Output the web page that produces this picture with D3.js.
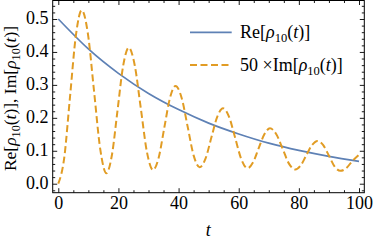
<!DOCTYPE html>
<html><head><meta charset="utf-8">
<script src="https://cdn.jsdelivr.net/npm/d3@7"></script>
<style>
html,body{margin:0;padding:0;background:#fff;}
svg{display:block;}
svg text{font-family:"Liberation Serif","Times New Roman","DejaVu Serif",serif !important;}
</style></head>
<body>
<script>
// ---- data ----
const reT = [0,10,20,30,40,50,60,70,80,90,100];
const reV = [0.500,0.409,0.335,0.274,0.225,0.184,0.151,0.123,0.101,0.083,0.068];
const imT = [0,1.95,3.9,5.85,7.8,9.85,11.9,13.95,16.0,17.85,19.7,21.55,23.4,25.43,27.45,29.48,31.5,33.38,35.25,37.13,39.0,41,43,45,47.0,48.95,50.9,52.85,54.8,56.83,58.85,60.88,62.9,64.78,66.65,68.53,70.4,72.5,74.6,76.7,78.8,80.65,82.5,84.35,86.2,88.1,90.0,91.9,93.8,95.75,97.7,100];
const imV = [0,0.077,0.264,0.450,0.527,0.455,0.280,0.105,0.032,0.088,0.223,0.357,0.413,0.359,0.228,0.096,0.042,0.079,0.170,0.260,0.297,0.261,0.174,0.086,0.050,0.076,0.140,0.203,0.229,0.202,0.138,0.074,0.047,0.065,0.108,0.150,0.168,0.150,0.106,0.061,0.043,0.056,0.087,0.117,0.130,0.117,0.085,0.052,0.039,0.047,0.068,0.088];
const xTicks = [0,20,40,60,80,100];
const xMinor = [5,10,15,25,30,35,45,50,55,65,70,75,85,90,95];
const yTicks = [0,0.1,0.2,0.3,0.4,0.5];
const yTickLabels = ["0.0","0.1","0.2","0.3","0.4","0.5"];
const yMinor = [-0.02,0.02,0.04,0.06,0.08,0.12,0.14,0.16,0.18,0.22,0.24,0.26,0.28,0.32,0.34,0.36,0.38,0.42,0.44,0.46,0.48,0.52,0.54];
const seriesNames = ["Re[ρ10(t)]","50 ×Im[ρ10(t)]"];

const W=374,H=242;
const L=52.7,R=364.3,T=0.5,B=192.7;
const x = d3.scaleLinear().domain([-1.86,101.76]).range([L,R]);
const y = d3.scaleLinear().domain([-0.0273,0.5562]).range([B,T]);
const FONT = '"Liberation Serif","Times New Roman","DejaVu Serif",serif';

const svg = d3.select("body").append("svg").attr("width",W).attr("height",H)
  .attr("font-family",FONT);
svg.append("defs").append("clipPath").attr("id","clip")
  .append("rect").attr("x",L).attr("y",T).attr("width",R-L).attr("height",B-T);

const blue="#5E81B5", orange="#E19C24";

// curves
const reData = reT.map((t,i)=>[t,reV[i]]);
const imData = imT.map((t,i)=>[t,imV[i]]);
const g = svg.append("g").attr("clip-path","url(#clip)");
g.append("path").datum(reData)
  .attr("d",d3.line().x(d=>x(d[0])).y(d=>y(d[1])).curve(d3.curveNatural))
  .attr("fill","none").attr("stroke",blue).attr("stroke-width",1.7);
g.append("path").datum(imData)
  .attr("d",d3.line().x(d=>x(d[0])).y(d=>y(d[1])).curve(d3.curveMonotoneX))
  .attr("fill","none").attr("stroke",orange).attr("stroke-width",2).attr("stroke-dasharray","7,3.5");

// axes
function axis(gen, tr, vals, size, labels){
  const a = gen.tickValues(vals).tickSize(size).tickSizeOuter(0);
  if(labels) a.tickFormat((d,i)=>labels[i]); else a.tickFormat("");
  const ag = svg.append("g").attr("transform",tr).call(a);
  ag.attr("font-family",FONT).attr("font-size",18);
  ag.select(".domain").remove();
  ag.selectAll("line").attr("stroke","#000").attr("stroke-width",0.9);
  return ag;
}
axis(d3.axisBottom(x).tickPadding(3.2), `translate(0,${B})`, xTicks, -4.5, xTicks.map(String));
axis(d3.axisBottom(x), `translate(0,${B})`, xMinor, -2.5, null);
axis(d3.axisTop(x), `translate(0,${T})`, xTicks, -4.5, null);
axis(d3.axisTop(x), `translate(0,${T})`, xMinor, -2.5, null);
const ly = axis(d3.axisLeft(y).tickPadding(4.2), `translate(${L},0)`, yTicks, -4.5, yTickLabels);
axis(d3.axisLeft(y), `translate(${L},0)`, yMinor, -2.5, null);
axis(d3.axisRight(y), `translate(${R},0)`, yTicks, -4.5, null);
axis(d3.axisRight(y), `translate(${R},0)`, yMinor, -2.5, null);
svg.selectAll(".tick text").attr("fill","#000");
ly.selectAll("text").attr("dy","0.27em");

// frame
svg.append("rect").attr("x",L).attr("y",T).attr("width",R-L).attr("height",B-T)
  .attr("fill","none").attr("stroke","#000").attr("stroke-width",1);

// axis titles
svg.append("text").attr("x",208.3).attr("y",236).attr("text-anchor","middle")
  .attr("font-size",18).attr("font-style","italic").text("t");

function rhoPart(sel, prefix, suffix, sub){
  sel.append("tspan").text(prefix);
  sel.append("tspan").attr("font-style","italic").text("ρ");
  sel.append("tspan").attr("font-size",sub).attr("dy",4).text("10");
  sel.append("tspan").attr("dy",-4).text("(");
  sel.append("tspan").attr("font-style","italic").text("t");
  sel.append("tspan").text(")"+suffix);
}
const yt = svg.append("text").attr("transform","translate(16,98.5) rotate(-90)")
  .attr("text-anchor","middle").attr("font-size",17.5);
rhoPart(yt,"Re[","], ",12.2);
rhoPart(yt,"Im[","]",12.2);

// legend
const legY=[32.3,65];
svg.append("line").attr("x1",190).attr("x2",231.7).attr("y1",legY[0]).attr("y2",legY[0])
  .attr("stroke",blue).attr("stroke-width",1.7);
svg.append("line").attr("x1",190).attr("x2",231.7).attr("y1",legY[1]).attr("y2",legY[1])
  .attr("stroke",orange).attr("stroke-width",2).attr("stroke-dasharray","7,3.5");
const t1 = svg.append("text").attr("x",240).attr("y",legY[0]+5.5).attr("font-size",18);
rhoPart(t1,"Re[","]",12.5);
const t2 = svg.append("text").attr("x",240).attr("y",legY[1]+5.5).attr("font-size",18);
rhoPart(t2,"50 ×Im[","]",12.5);
</script>
</body></html>
